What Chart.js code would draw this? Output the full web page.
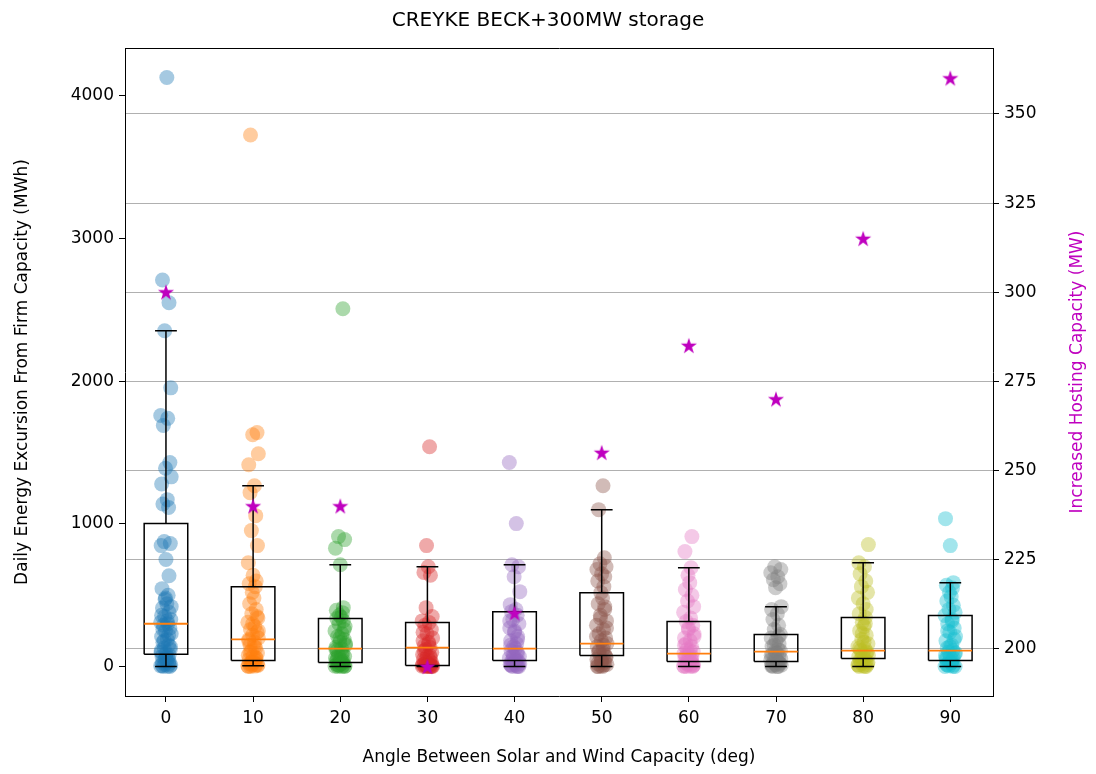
<!DOCTYPE html>
<html>
<head>
<meta charset="utf-8">
<script src="https://cdn.jsdelivr.net/npm/chart.js@4.4.0/dist/chart.umd.min.js"></script>
<style>
  html, body { margin: 0; padding: 0; background: #fff; }
  canvas { display: block; }
</style>
</head>
<body>
<canvas id="chart" width="1096" height="774"></canvas>
<script>
const angles = [0, 10, 20, 30, 40, 50, 60, 70, 80, 90];
const colors = ['#1f77b4', '#ff7f0e', '#2ca02c', '#d62728', '#9467bd', '#8c564b', '#e377c2', '#7f7f7f', '#bcbd22', '#17becf'];

// daily energy excursion (MWh), one list per angle
const angle0 = [4130, 2710, 2550, 2354, 1954, 1760, 1740, 1690, 1430, 1390, 1330, 1280, 1170, 1140, 1115, 876, 862, 848, 750, 637, 546, 500, 470, 440, 410, 380, 350, 330, 310, 300, 290, 270, 250, 230, 210, 190, 170, 150, 130, 120, 100, 90, 80, 70, 60, 50, 40, 30, 20, 15, 10, 5, 2, 0, 0, 480, 420, 360, 320, 260, 220, 180, 140, 110, 65, 35, 8];
const angle10 = [3727, 1640, 1625, 1492, 1415, 1268, 1219, 1058, 953, 848, 728, 640, 600, 580, 560, 520, 480, 440, 400, 370, 340, 310, 280, 260, 240, 220, 200, 190, 170, 150, 130, 110, 95, 80, 70, 60, 50, 42, 35, 28, 20, 15, 10, 7, 5, 3, 0, 350, 300, 250, 180, 140, 100, 60, 25, 12, 0];
const angle20 = [2508, 911, 890, 830, 714, 413, 395, 378, 360, 345, 336, 320, 300, 280, 250, 230, 210, 190, 170, 150, 135, 126, 110, 95, 80, 70, 60, 50, 40, 35, 30, 28, 20, 15, 10, 8, 5, 3, 0, 0, 260, 200, 160, 120, 90, 55, 25, 12, 0];
const angle30 = [1541, 848, 700, 660, 640, 413, 350, 320, 308, 290, 260, 230, 200, 180, 160, 145, 133, 120, 100, 85, 70, 60, 50, 40, 30, 20, 15, 10, 7, 5, 3, 2, 0, 0, 0, 0, 240, 170, 110, 75, 45, 25, 12, 4, 0];
const angle40 = [1431, 1002, 714, 700, 630, 525, 434, 400, 385, 360, 330, 300, 270, 240, 210, 180, 160, 140, 126, 110, 95, 80, 70, 60, 50, 42, 35, 28, 20, 15, 10, 5, 2, 0, 0, 320, 250, 190, 150, 100, 65, 38, 12, 0];
const angle50 = [1268, 1100, 763, 720, 700, 680, 650, 630, 600, 560, 518, 480, 440, 400, 360, 320, 290, 260, 230, 200, 180, 161, 140, 120, 100, 90, 77, 65, 50, 40, 30, 20, 10, 5, 0, 0, 420, 340, 270, 210, 150, 110, 70, 35, 15, 0];
const angle60 = [911, 806, 693, 640, 588, 540, 500, 460, 420, 380, 340, 315, 290, 260, 230, 200, 180, 160, 140, 120, 105, 91, 80, 70, 60, 50, 42, 35, 28, 20, 15, 10, 5, 2, 0, 0, 270, 210, 150, 110, 75, 45, 22, 8, 0];
const angle70 = [700, 680, 658, 630, 609, 580, 553, 420, 400, 370, 330, 290, 260, 224, 200, 180, 160, 140, 120, 105, 95, 85, 75, 65, 55, 45, 35, 28, 20, 15, 10, 5, 0, 0, 210, 150, 110, 80, 50, 25, 10, 0];
const angle80 = [855, 728, 700, 650, 600, 560, 520, 480, 440, 400, 370, 343, 310, 280, 250, 220, 190, 160, 140, 125, 112, 100, 90, 80, 70, 56, 45, 35, 25, 15, 10, 5, 0, 0, 300, 230, 170, 130, 95, 60, 30, 12, 0];
const angle90 = [1037, 848, 588, 570, 550, 520, 490, 460, 430, 400, 380, 357, 330, 300, 270, 240, 210, 180, 150, 130, 112, 100, 90, 80, 70, 60, 50, 42, 35, 25, 15, 10, 5, 0, 0, 320, 250, 190, 140, 95, 60, 30, 12, 0];
const excursions = [angle0, angle10, angle20, angle30, angle40, angle50, angle60, angle70, angle80, angle90];

// box plot statistics
const whiskerLow = [0, 5, 0, 0, 0, 0, 0, 0, 0, 0];
const q1 = [87, 42, 28, 7, 42, 77, 35, 35, 56, 42];
const medians = [300, 190, 126, 133, 126, 161, 91, 105, 112, 112];
const q3 = [1002, 560, 336, 308, 385, 518, 315, 224, 343, 357];
const whiskerHigh = [2354, 1268, 714, 700, 714, 1100, 693, 420, 728, 588];

// increased hosting capacity (MW)
const hosting = [300, 240, 240, 195, 210, 255, 285, 270, 315, 360];

// horizontal spread of the dots (deg)
const jitter = [0.1, -0.4, 0.35, -0.15, 0.55, -0.6, 0.2, -0.3, 0.45, -0.05, 0.6, -0.5, 0.15, -0.35, 0.3, -0.2, 0.5, -0.55, 0.0, 0.35, -0.45, 0.25, -0.1];

const leftTicks = [0, 1000, 2000, 3000, 4000];
const rightTicks = [200, 225, 250, 275, 300, 325, 350];

const BOX_HALF = 2.5;
const CAP_HALF = 1.25;

function alpha(hex, a) {
  const n = parseInt(hex.slice(1), 16);
  return `rgba(${(n >> 16) & 255},${(n >> 8) & 255},${n & 255},${a})`;
}

function starImage(color) {
  const c = document.createElement('canvas');
  c.width = 20; c.height = 20;
  const g = c.getContext('2d');
  const R = 8.5, r = R * 0.382;
  g.beginPath();
  for (let i = 0; i < 10; i++) {
    const rad = i % 2 === 0 ? R : r;
    const a = -Math.PI / 2 + i * Math.PI / 5;
    const px = 10 + rad * Math.cos(a), py = 10.5 + rad * Math.sin(a);
    i === 0 ? g.moveTo(px, py) : g.lineTo(px, py);
  }
  g.closePath();
  g.fillStyle = color;
  g.fill();
  return c;
}

const datasets = [];

excursions.forEach((vals, k) => {
  datasets.push({
    type: 'scatter',
    data: vals.map((v, i) => ({ x: angles[k] + jitter[(i + k * 7) % jitter.length], y: v })),
    backgroundColor: alpha(colors[k], 0.4),
    borderColor: alpha(colors[k], 0.4),
    borderWidth: 0,
    pointRadius: 7.5,
    yAxisID: 'y',
    order: 4
  });
});

const boxPts = [];
const medianPts = [];
angles.forEach((a, k) => {
  boxPts.push(
    { x: a - BOX_HALF, y: q1[k] }, { x: a + BOX_HALF, y: q1[k] }, { x: a + BOX_HALF, y: q3[k] },
    { x: a - BOX_HALF, y: q3[k] }, { x: a - BOX_HALF, y: q1[k] }, { x: a, y: null },
    { x: a, y: q3[k] }, { x: a, y: whiskerHigh[k] }, { x: a, y: null },
    { x: a, y: q1[k] }, { x: a, y: whiskerLow[k] }, { x: a, y: null },
    { x: a - CAP_HALF, y: whiskerHigh[k] }, { x: a + CAP_HALF, y: whiskerHigh[k] }, { x: a, y: null },
    { x: a - CAP_HALF, y: whiskerLow[k] }, { x: a + CAP_HALF, y: whiskerLow[k] }, { x: a, y: null }
  );
  medianPts.push({ x: a - BOX_HALF, y: medians[k] }, { x: a + BOX_HALF, y: medians[k] }, { x: a, y: null });
});

datasets.push({
  type: 'line',
  data: boxPts,
  borderColor: '#000',
  borderWidth: 1.5,
  pointRadius: 0,
  spanGaps: false,
  fill: false,
  tension: 0,
  yAxisID: 'y',
  order: 2
});

datasets.push({
  type: 'line',
  data: medianPts,
  borderColor: '#ff7f0e',
  borderWidth: 1.8,
  pointRadius: 0,
  spanGaps: false,
  fill: false,
  tension: 0,
  yAxisID: 'y',
  order: 1
});

datasets.push({
  type: 'scatter',
  data: angles.map((a, k) => ({ x: a, y: hosting[k] })),
  pointStyle: starImage('#bf00bf'),
  yAxisID: 'y2',
  order: 0
});

const rightTitle = {
  id: 'rightTitle',
  afterDraw(chart) {
    const { ctx, chartArea } = chart;
    ctx.save();
    ctx.translate(1078, (chartArea.top + chartArea.bottom) / 2);
    ctx.rotate(-Math.PI / 2);
    ctx.textAlign = 'center';
    ctx.textBaseline = 'middle';
    ctx.fillStyle = '#bf00bf';
    ctx.font = '17px "DejaVu Sans"';
    ctx.fillText('Increased Hosting Capacity (MW)', 0, 0);
    ctx.restore();
  }
};

Chart.defaults.font.family = '"DejaVu Sans", sans-serif';
Chart.defaults.font.size = 17;
Chart.defaults.color = '#000';

new Chart(document.getElementById('chart'), {
  type: 'scatter',
  data: { datasets },
  plugins: [rightTitle],
  options: {
    responsive: false,
    animation: false,
    devicePixelRatio: 1,
    layout: { padding: 0 },
    plugins: {
      legend: { display: false },
      tooltip: { enabled: false },
      title: {
        display: true,
        text: 'CREYKE BECK+300MW storage',
        font: { size: 20, weight: 'normal' },
        color: '#000',
        padding: { top: 9, bottom: 3 }
      }
    },
    scales: {
      x: {
        type: 'linear',
        position: 'bottom',
        min: -4.7,
        max: 94.9,
        afterBuildTicks: s => { s.ticks = angles.map(v => ({ value: v })); },
        afterFit: s => { s.height = 78; },
        ticks: { padding: 6, color: '#000', maxRotation: 0 },
        grid: { display: true, drawOnChartArea: false, tickLength: 6, tickColor: '#000' },
        border: { color: '#000', width: 1 },
        title: {
          display: true,
          text: 'Angle Between Solar and Wind Capacity (deg)',
          color: '#000',
          padding: { top: 0, bottom: 6 }
        }
      },
      xTop: {
        type: 'linear',
        position: 'top',
        min: -4.7,
        max: 94.9,
        afterFit: s => { s.height = 12; },
        ticks: { display: false },
        grid: { display: false },
        border: { color: '#000', width: 1 }
      },
      y: {
        type: 'linear',
        position: 'left',
        min: -206.5,
        max: 4336.5,
        afterBuildTicks: s => { s.ticks = leftTicks.map(v => ({ value: v })); },
        afterFit: s => { s.width = 125; },
        ticks: { padding: 5, color: '#000', callback: v => String(v) },
        grid: { display: true, drawOnChartArea: false, tickLength: 6, tickColor: '#000' },
        border: { color: '#000', width: 1 },
        title: {
          display: true,
          text: 'Daily Energy Excursion From Firm Capacity (MWh)',
          color: '#000',
          padding: { top: 12, bottom: 0 }
        }
      },
      y2: {
        type: 'linear',
        position: 'right',
        min: 186.8,
        max: 368.5,
        afterBuildTicks: s => { s.ticks = rightTicks.map(v => ({ value: v })); },
        afterFit: s => { s.width = 103; },
        ticks: { padding: 5, color: '#000', callback: v => String(v) },
        grid: { display: true, drawOnChartArea: true, color: '#b0b0b0', lineWidth: 1, tickLength: 6, tickColor: '#000' },
        border: { color: '#000', width: 1 }
      }
    }
  }
});
</script>
</body>
</html>
